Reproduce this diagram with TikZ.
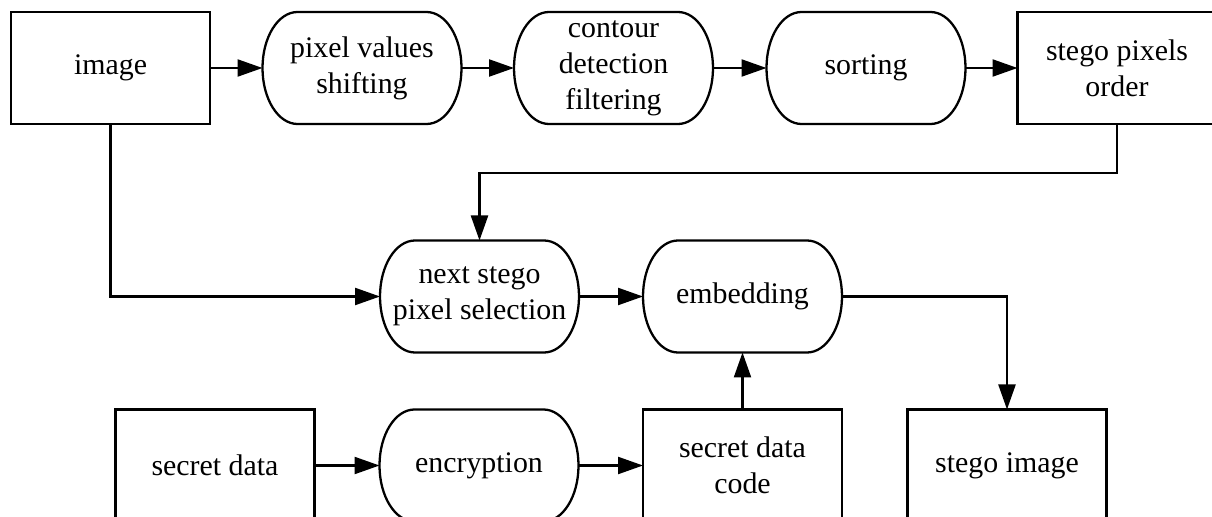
\documentclass[tikz,border=0pt]{standalone}
\usepackage{fontspec}
\setmainfont{Liberation Serif}
\newfontfamily\figfont{Liberation Serif}
\usetikzlibrary{arrows.meta}

\begin{document}
\begin{tikzpicture}
  \tikzstyle{block}=[rectangle, draw, line width=1.3pt, minimum width=3.98cm, minimum height=2.24cm, inner sep=0pt, outer sep=0pt, align=center, font=\figfont\fontsize{17}{20.5}\selectfont]
  \tikzstyle{term}=[block, draw=none]
  \tikzstyle{rim}=[line width=1.3pt]
  \tikzstyle{flow}=[line width=1.3pt, -{Triangle[length=0.5cm, width=0.34cm]}]

  \path[use as bounding box, clip] (0,0) rectangle (24.24,-10.34);

  \node[block] (image)   at (2.21,  -1.36) {image};
  \node[term]  (shift)   at (7.24,  -1.36) {pixel values\\shifting};
  \node[term]  (contour) at (12.27, -1.36) {contour\\detection\\filtering};
  \node[term]  (sort)    at (17.32, -1.36) {sorting};
  \node[block] (order)   at (22.34, -1.36) {stego pixels\\order};

  \node[term]  (next)    at (9.59,  -5.93) {next stego\\pixel selection};
  \node[term]  (embed)   at (14.85, -5.93) {embedding};

  \node[block] (secret)  at (4.30,  -9.31) {secret data};
  \node[term]  (encrypt) at (9.58,  -9.31) {encryption};
  \node[block] (code)    at (14.85, -9.31) {secret data\\code};
  \node[block] (stegoimg) at (20.14, -9.31) {stego image};

  \foreach \n in {shift,contour,sort,next,embed,encrypt}
    \draw[rim] ([xshift=0.7cm]\n.north west) -- ([xshift=-0.7cm]\n.north east)
      arc[start angle=90, end angle=-90, x radius=0.7cm, y radius=1.12cm]
      -- ([xshift=0.7cm]\n.south west)
      arc[start angle=270, end angle=90, x radius=0.7cm, y radius=1.12cm] -- cycle;

  \draw[flow] (image) -- (shift);
  \draw[flow] (shift) -- (contour);
  \draw[flow] (contour) -- (sort);
  \draw[flow] (sort) -- (order);
  \draw[flow] (order.south) -- ++(0,-0.98) -| (next.north);
  \draw[flow] (image.south) |- (next.west);
  \draw[flow] (next) -- (embed);
  \draw[flow] (embed.east) -| (stegoimg.north);
  \draw[flow] (secret) -- (encrypt);
  \draw[flow] (encrypt) -- (code);
  \draw[flow] (code) -- (embed);
\end{tikzpicture}
\end{document}
